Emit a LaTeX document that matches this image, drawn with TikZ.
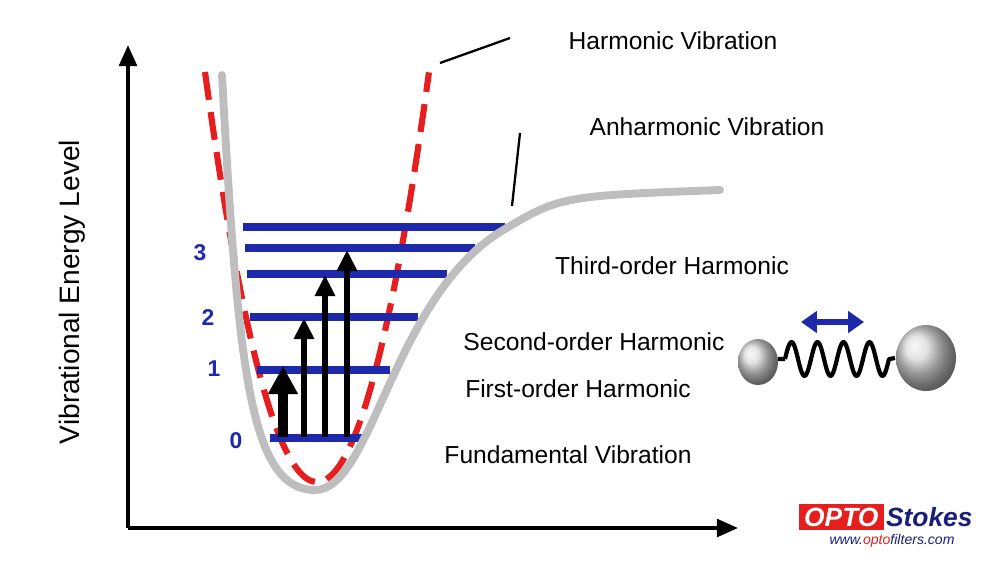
\documentclass[tikz,border=0pt]{standalone}
\usepackage{fontspec}
\setmainfont{Liberation Sans}
\usetikzlibrary{arrows.meta,positioning}
\definecolor{levelblue}{RGB}{30,40,170}
\definecolor{curvegray}{RGB}{190,190,190}
\definecolor{logored}{RGB}{230,30,30}
\definecolor{logonavy}{RGB}{25,30,120}
\begin{document}
\begin{tikzpicture}[
    x=0.02cm, y=-0.02cm,
    >=Stealth,
    lbl/.style   = {font=\fontsize{14}{16}\selectfont, inner sep=0pt},
    num/.style   = {font=\fontsize{13}{14}\selectfont\bfseries, text=levelblue, inner sep=0pt},
    level/.style = {levelblue, line width=4pt},
    jump/.style  = {line width=3.2pt, -{Triangle[length=12pt,width=11pt]}},
    leader/.style= {line width=1.3pt},
  ]
	\useasboundingbox (0,0) rectangle (1000,561);

	% Achsen
	\coordinate (O) at (128,528);
	\coordinate (ytop) at (128,45);
	\coordinate (xend) at (738,528);
	\draw[line width=2.2pt, -{Triangle[length=12pt,width=10pt]}] (O) -- (ytop);
	\draw[line width=2.2pt, -{Triangle[length=12pt,width=10pt]}] (O) -- (xend);
	\node[lbl, rotate=90, font=\fontsize{16}{18}\selectfont] (ylab) at (72,292) {Vibrational Energy Level};

	% Harmonisches Potential (gestrichelt)
	\draw[logored, line width=3.5pt, dash pattern=on 16pt off 7pt]
	  plot[domain=-1:1, samples=60, smooth] ({317+112*\x},{482-410*\x*\x});

	% Energieniveaus
	\foreach \y/\xa/\xb in {227/243/505, 248/245/475, 274/247/447, 317/250/418, 370/257/390, 438/270/362}
	  \draw[level] (\xa,\y) -- (\xb,\y);

	% Anharmonisches Potential
	\draw[curvegray, line width=4.5pt, line cap=round]
	  (222,75) .. controls (238,370) and (250,490) .. (315,490)
	  .. controls (372,490) and (392,300) .. (500,232)
	  .. controls (560,196) .. (720,190);

	% Niveau-Nummern
	\node[num] (n3) at (200,253) {3};
	\node[num] (n2) at (208,318) {2};
	\node[num] (n1) at (214,369) {1};
	\node[num] (n0) at (236,441) {0};

	% Übergänge
	\foreach \x/\ytop in {304/318, 325/275, 347/250}
	  \draw[jump] (\x,437) -- (\x,\ytop);
	\draw[line width=5.5pt, -{Triangle[length=16pt,width=16pt]}] (283,437) -- (283,366);

	% Beschriftungen
	\node[lbl] (harm)  at (673,41)  {Harmonic Vibration};
	\node[lbl] (anh)   at (707,127) {Anharmonic Vibration};
	\node[lbl] (third) at (672,266) {Third-order Harmonic};
	\node[lbl] (second) at (594,342) {Second-order Harmonic};
	\node[lbl] (first) at (578,389) {First-order Harmonic};
	\node[lbl] (fund)  at (568,455) {Fundamental Vibration};
	\coordinate (h1) at (440,63);  \coordinate (h2) at (510,38);
	\coordinate (a1) at (520,133); \coordinate (a2) at (512,206);
	\draw[leader] (h1) -- (h2);
	\draw[leader] (a1) -- (a2);

	% Molekül
	\shade[ball color=gray!30] (758,362) ellipse [x radius=20, y radius=23];
	\shade[ball color=gray!30] (926,358) ellipse [x radius=30, y radius=33];
	\draw[line width=2.4pt, line join=round] (778,359) -- (785,359)
	  plot[domain=0:4, samples=81, smooth] ({785+26*\x},{359-17*sin(360*\x)}) -- (895,358);
	\coordinate (m1) at (801,322); \coordinate (m2) at (864,322);
	\draw[levelblue, line width=3pt, {Triangle[length=9pt,width=12pt]}-{Triangle[length=9pt,width=12pt]}] (m1) -- (m2);

	% Logo
	\node[fill=logored, text=white, font=\bfseries\itshape\fontsize{15}{16}\selectfont,
	      inner xsep=3pt, inner ysep=2pt, anchor=east] (opto) at (884,517) {OPTO};
	\node[text=logonavy, font=\bfseries\itshape\fontsize{15}{16}\selectfont, inner sep=1pt, anchor=west] (stokes) at (opto.east) {Stokes};
	\node[text=logonavy, font=\itshape\fontsize{8}{9}\selectfont, inner sep=0pt] (web) at (892,541) {www.\textcolor{logored}{opto}filters.com};
\end{tikzpicture}
\end{document}
